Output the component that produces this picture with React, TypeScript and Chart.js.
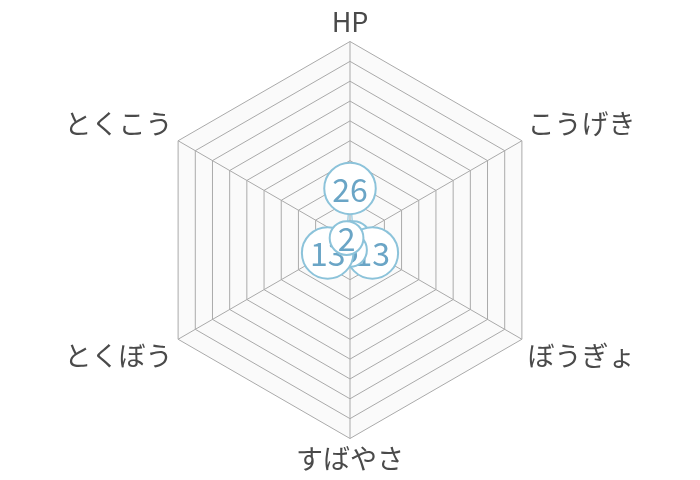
import React, { useEffect, useRef } from "react";
import { Chart, registerables } from "chart.js";

Chart.register(...registerables);

const categories = ["HP", "こうげき", "ぼうぎょ", "すばやさ", "とくぼう", "とくこう"];
const statValues = [26, 2, 13, 5, 13, 2];
const scaleMax = 100;
const scaleStep = 10;

const FONT = '"Noto Sans CJK JP", "Noto Sans", sans-serif';

const hexBackground = {
  id: "hexBackground",
  beforeDraw(chart: any) {
    const scale = chart.scales.r;
    if (!scale) return;
    const ctx = chart.ctx;
    const n = chart.data.labels.length;
    ctx.save();
    ctx.beginPath();
    for (let i = 0; i < n; i++) {
      const p = scale.getPointPosition(i, scale.drawingArea);
      if (i === 0) ctx.moveTo(p.x, p.y);
      else ctx.lineTo(p.x, p.y);
    }
    ctx.closePath();
    ctx.fillStyle = "#fafafa";
    ctx.fill();
    ctx.restore();
  },
};

const bubbleLabels = {
  id: "bubbleLabels",
  afterDatasetsDraw(chart: any) {
    const ctx = chart.ctx;
    const meta = chart.getDatasetMeta(0);
    const data = chart.data.datasets[0].data;
    ctx.save();
    ctx.font = `32px ${FONT}`;
    ctx.textAlign = "center";
    ctx.textBaseline = "middle";
    meta.data.forEach((el: any, i: number) => {
      const text = String(data[i]);
      const w = ctx.measureText(text).width;
      const r = w / 2 + 8;
      ctx.beginPath();
      ctx.arc(el.x, el.y, r, 0, Math.PI * 2);
      ctx.fillStyle = "#ffffff";
      ctx.fill();
      ctx.lineWidth = 2;
      ctx.strokeStyle = "#8cc3da";
      ctx.stroke();
      ctx.fillStyle = "#6aa5c6";
      ctx.fillText(text, el.x, el.y + 1);
    });
    ctx.restore();
  },
};

export default function App() {
  const ref = useRef<HTMLCanvasElement | null>(null);
  useEffect(() => {
    if (!ref.current) return;
    const chart = new Chart(ref.current, {
      type: "radar",
      data: {
        labels: categories,
        datasets: [
          {
            data: statValues,
            borderColor: "#8cc3da",
            borderWidth: 1,
            backgroundColor: "rgba(140,195,218,0.2)",
            pointRadius: 0,
            fill: true,
          },
        ],
      },
      options: {
        responsive: false,
        animation: false,
        plugins: { legend: { display: false }, tooltip: { enabled: false } },
        scales: {
          r: {
            min: 0,
            max: scaleMax,
            ticks: { display: false, stepSize: scaleStep },
            grid: { color: "#aaaaaa", lineWidth: 1 },
            angleLines: { color: "#aaaaaa", lineWidth: 1 },
            pointLabels: {
              color: "#4a4a4a",
              padding: 6.5,
              font: { family: FONT, size: 27, lineHeight: 1.0 },
            },
          },
        },
      },
      plugins: [hexBackground, bubbleLabels],
    });
    return () => chart.destroy();
  }, []);
  return (
    <div style={{ width: 684, height: 464 }}>
      <canvas ref={ref} width={684} height={464} style={{ display: "block" }} />
    </div>
  );
}
